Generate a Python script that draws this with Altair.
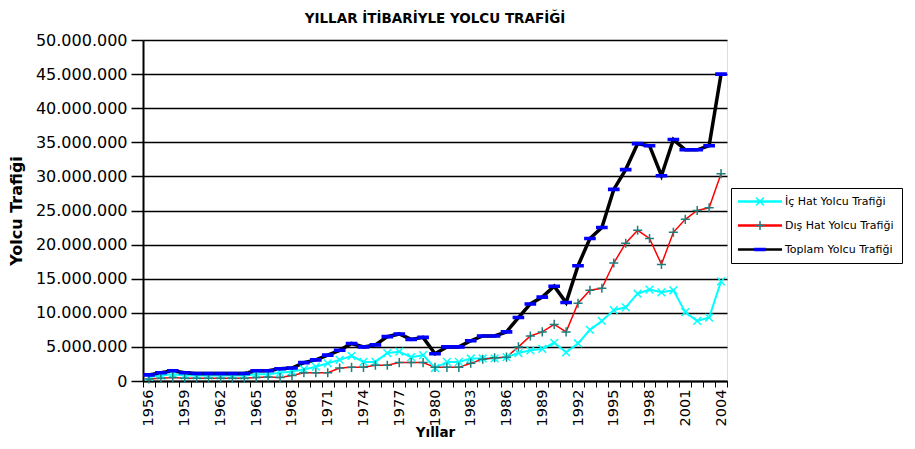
import altair as alt
import pandas as pd

# ---- data (values in millions of passengers) ----
years = list(range(1956, 2005))
ic_hat = [0.6, 0.8, 1.0, 0.8, 0.8, 0.8, 0.8, 0.8, 0.8, 1.0,
          1.0, 1.2, 1.4, 1.7, 2.1, 2.6, 3.1, 3.7, 2.8, 2.8,
          4.1, 4.3, 3.5, 3.8, 1.9, 2.8, 2.8, 3.3, 3.3, 3.3,
          3.5, 4.1, 4.5, 4.7, 5.6, 4.2, 5.5, 7.5, 8.8, 10.4,
          10.8, 12.8, 13.4, 13.0, 13.3, 10.1, 8.8, 9.3, 14.6]
dis_hat = [0.3, 0.4, 0.5, 0.4, 0.4, 0.4, 0.4, 0.4, 0.4, 0.5,
           0.6, 0.5, 0.8, 1.2, 1.2, 1.2, 1.9, 2.0, 2.0, 2.3,
           2.3, 2.7, 2.7, 2.7, 2.0, 2.0, 2.0, 2.6, 3.2, 3.4,
           3.5, 5.0, 6.6, 7.2, 8.3, 7.2, 11.4, 13.3, 13.6, 17.3,
           20.2, 22.1, 20.9, 17.1, 21.8, 23.7, 25.0, 25.4, 30.4]
toplam = [0.9, 1.2, 1.5, 1.2, 1.1, 1.1, 1.1, 1.1, 1.1, 1.5,
          1.5, 1.8, 1.9, 2.7, 3.1, 3.8, 4.5, 5.5, 5.0, 5.3,
          6.5, 6.9, 6.1, 6.4, 4.0, 5.0, 5.0, 5.9, 6.6, 6.6,
          7.2, 9.3, 11.3, 12.3, 13.9, 11.5, 16.9, 20.9, 22.5, 28.1,
          31.0, 34.8, 34.5, 30.1, 35.4, 33.9, 33.9, 34.5, 45.0]

series_names = ["İç Hat Yolcu Trafiği", "Dış Hat Yolcu Trafiği", "Toplam Yolcu Trafiği"]
marker_keys = ["ic", "dis", "toplam"]
y_ticks = [0, 5000000, 10000000, 15000000, 20000000, 25000000,
           30000000, 35000000, 40000000, 45000000, 50000000]

# ---- styles ----
line_colors = ["#00FFFF", "#FF0000", "#000000"]
line_widths = [2, 1.5, 3.5]
marker_colors = ["#00FFFF", "#1A7F7F", "#0000FF"]
_pad = " M-1.3,-1.3M1.3,1.3"
marker_shapes = [
    "M-1.1,-1.1L1.1,1.1M-1.1,1.1L1.1,-1.1" + _pad,
    "M-1.3,0L1.3,0M0,-1.3L0,1.3" + _pad,
    "M-1.45,-0.3L1.45,-0.3L1.45,0.3L-1.45,0.3Z" + _pad,
]
FONT = "DejaVu Sans"

rows = []
for name, key, vals in zip(series_names, marker_keys, [ic_hat, dis_hat, toplam]):
    for yr, v in zip(years, vals):
        rows.append({"year": yr, "series": name, "mseries": key, "value": v * 1_000_000})
df = pd.DataFrame(rows)

x_enc = alt.X(
    "year:O",
    bandPosition=0.5,
    scale=alt.Scale(type="band", paddingInner=0, paddingOuter=0),
    axis=alt.Axis(
        title="Yıllar",
        tickBand="extent",
        labelExpr="(datum.value - 1956) % 3 == 0 ? datum.label : ''",
        labelAngle=270,
        labelAlign="right",
        labelBaseline="middle",
        labelOverlap=False,
        labelFont=FONT,
        labelFontSize=14.5,
        labelColor="black",
        labelPadding=2,
        tickColor="black",
        tickSize=6,
        tickWidth=1,
        domainColor="black",
        domainWidth=2,
        grid=False,
        titleFont=FONT,
        titleFontSize=13.5,
        titleFontWeight="bold",
        titleColor="black",
        titlePadding=0,
    ),
)

y_enc = alt.Y(
    "value:Q",
    scale=alt.Scale(domain=[0, 50000000], nice=False),
    axis=alt.Axis(
        title="Yolcu Trafiği",
        values=y_ticks,
        labelExpr="replace(replace(replace(format(datum.value, ',d'), ',', '.'), ',', '.'), ',', '.')",
        labelFont=FONT,
        labelFontSize=16,
        labelColor="black",
        labelPadding=4,
        tickColor="black",
        tickSize=12,
        tickWidth=1.5,
        domainColor="black",
        domainWidth=2,
        grid=True,
        gridColor="black",
        gridWidth=1.5,
        gridOpacity=1,
        titleFont=FONT,
        titleFontSize=16,
        titleFontWeight="bold",
        titleColor="black",
        titlePadding=11,
    ),
)

legend_common = dict(
    orient="none", legendX=588, legendY=148, title=None, padding=8,
    symbolOffset=15.5, labelOffset=19.5,
    labelFont=FONT, labelFontSize=11, symbolSize=49,
)

legend_lines = alt.Legend(
    **legend_common,
    rowPadding=12,
    labelColor="black",
    symbolType="M-6.3,0L6.3,0",
    symbolStrokeWidth=2.5,
    strokeColor="black",
)
legend_marks = alt.Legend(
    **legend_common,
    rowPadding=7,
    labelExpr="''",
    symbolStrokeWidth=1.5,
)

color_enc = alt.Color("series:N", scale=alt.Scale(domain=series_names, range=line_colors),
                      legend=legend_lines)

line_layers = [
    alt.Chart(df).transform_filter(alt.datum.series == name)
    .mark_line(strokeWidth=w)
    .encode(x=x_enc, y=y_enc, color=color_enc)
    for name, w in zip(series_names, line_widths)
]

points = alt.Chart(df).mark_point(size=49, strokeWidth=1.5, opacity=1).encode(
    x=x_enc,
    y=y_enc,
    shape=alt.Shape("mseries:N", scale=alt.Scale(domain=marker_keys, range=marker_shapes),
                    legend=legend_marks),
    stroke=alt.Stroke("mseries:N", scale=alt.Scale(domain=marker_keys, range=marker_colors),
                      legend=legend_marks),
    fill=alt.Fill("mseries:N", scale=alt.Scale(domain=marker_keys, range=marker_colors),
                  legend=legend_marks),
)

chart = alt.layer(*line_layers, points).properties(
    width=584,
    height=341,
    autosize=alt.AutoSizeParams(type="none"),
    padding={"left": 135, "top": 32, "right": 180, "bottom": 60},
    background="white",
    title=alt.Title(
        "YILLAR İTİBARİYLE YOLCU TRAFİĞİ",
        font=FONT, fontSize=13.5, fontWeight="bold", color="black",
        anchor="middle", offset=7,
    ),
).configure_view(
    stroke="black", strokeWidth=2
).configure(font=FONT)

chart.save("out.html", embed_options={"renderer": "svg", "actions": False})
